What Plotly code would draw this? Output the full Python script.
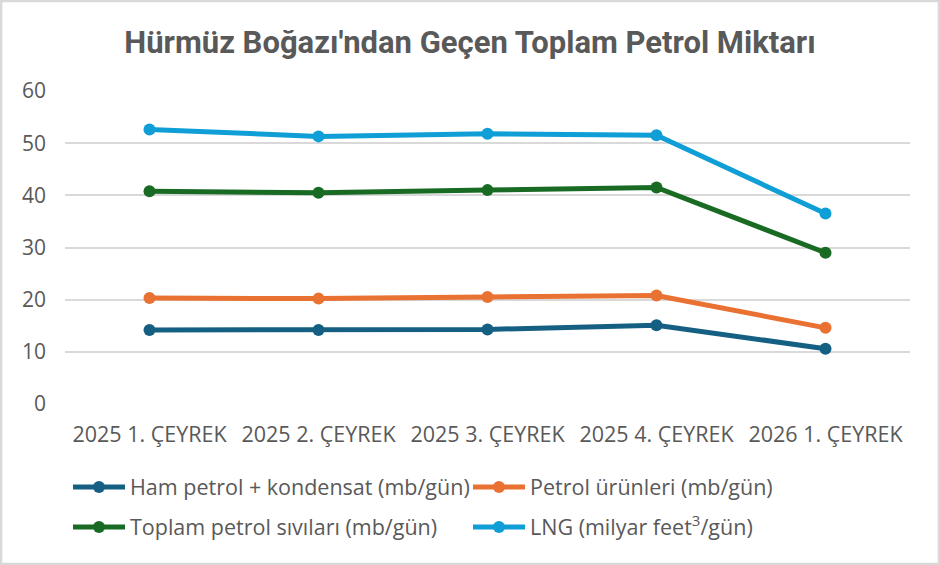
import plotly.graph_objects as go

quarters = ["2025 1. ÇEYREK", "2025 2. ÇEYREK", "2025 3. ÇEYREK",
            "2025 4. ÇEYREK", "2026 1. ÇEYREK"]
ham_petrol = [14.2, 14.2, 14.3, 15.1, 10.6]
petrol_urunleri = [20.3, 20.2, 20.5, 20.8, 14.6]
toplam_sivi = [40.8, 40.5, 41.0, 41.5, 29.0]
lng = [52.6, 51.3, 51.8, 51.5, 36.5]

names = ["Ham petrol + kondensat (mb/gün)", "Petrol ürünleri (mb/gün)",
         "Toplam petrol sıvıları (mb/gün)", "LNG (milyar feet<sup>3</sup>/gün)"]
colors = ["#156082", "#E97132", "#196B24", "#0F9ED5"]
series = [ham_petrol, petrol_urunleri, toplam_sivi, lng]
legends = ["legend", "legend", "legend2", "legend2"]

FONT = "Open Sans, sans-serif"
GREY = "#595959"

fig = go.Figure()
for name, col, vals, lg in zip(names, colors, series, legends):
    fig.add_trace(go.Scatter(
        x=quarters, y=vals, name=name, mode="lines+markers",
        line=dict(color=col, width=5),
        marker=dict(color=col, size=12),
        legend=lg,
    ))

leg_common = dict(orientation="h", xref="container", yref="container",
                  x=68 / 940, xanchor="left", yanchor="middle",
                  entrywidth=333, entrywidthmode="pixels",
                  font=dict(family=FONT, size=21.5, color=GREY),
                  bgcolor="rgba(0,0,0,0)", itemwidth=52)

fig.update_layout(
    width=940, height=565,
    paper_bgcolor="white", plot_bgcolor="white",
    margin=dict(l=65, r=30, t=91, b=161),
    title=dict(text="<b>Hürmüz Boğazı'ndan Geçen Toplam Petrol Miktarı</b>",
               x=0.5, xanchor="center", y=1 - 42 / 565, yanchor="middle",
               font=dict(family="Roboto, sans-serif", size=31, color=GREY)),
    font=dict(family=FONT, size=20, color=GREY),
    legend=dict(y=1 - 487 / 565, **leg_common),
    legend2=dict(y=1 - 527 / 565, **leg_common),
    xaxis=dict(range=[-0.5, 4.5], showgrid=False, showline=False, ticks="",
               zeroline=False, ticklabelstandoff=15,
               tickfont=dict(family=FONT, size=21.5, color=GREY)),
    yaxis=dict(range=[0, 60], dtick=10, gridcolor="#D9D9D9", gridwidth=1.5,
               zeroline=False, showline=False, ticks="",
               ticklabelstandoff=18,
               tickfont=dict(family=FONT, size=21, color=GREY)),
    shapes=[dict(type="rect", xref="paper", yref="paper",
                 x0=-65 / 845 + 0.001, x1=1 + 30 / 845 - 0.001,
                 y0=-161 / 313 + 0.002, y1=1 + 91 / 313 - 0.002,
                 line=dict(color="#D9D9D9", width=3), layer="below")],
)

fig.write_html("out.html", config={"displayModeBar": False},
               post_script="document.body.style.margin='0';")
